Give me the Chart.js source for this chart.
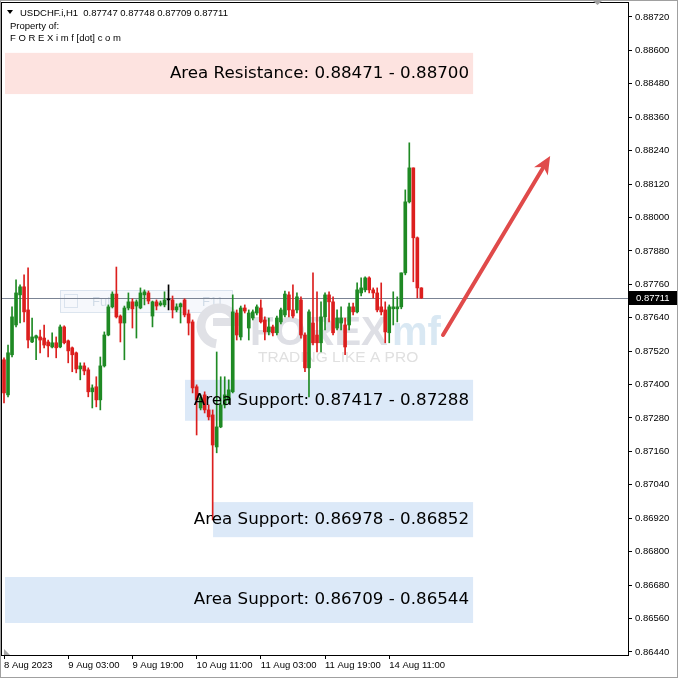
<!DOCTYPE html>
<html>
<head>
<meta charset="utf-8">
<title>USDCHF.i H1</title>
<script src="https://cdn.jsdelivr.net/npm/chart.js@4.4.1/dist/chart.umd.min.js"></script>
<style>
    html, body { margin: 0; padding: 0; background: #fff; }
    #wrap { position: relative; width: 678px; height: 678px; }
</style>
</head>
<body>
<div id="wrap"><canvas id="chart"></canvas></div>
<script>
// USDCHF.i H1 candles, 8 Aug 2023 11:00 -> 14 Aug 2023 19:00
const opens = [
    0.87489, 0.87363, 0.87507, 0.87614, 0.87722, 0.87751, 0.87668, 0.87553, 0.87567, 0.87571,
    0.87567, 0.87553, 0.87535, 0.87550, 0.87535, 0.87607, 0.87557, 0.87532, 0.87514, 0.87456,
    0.87467, 0.87453, 0.87374, 0.87392, 0.87345, 0.87467, 0.87578, 0.87679, 0.87725, 0.87646,
    0.87621, 0.87675, 0.87697, 0.87682, 0.87675, 0.87722, 0.87729, 0.87646, 0.87697, 0.87686,
    0.87686, 0.87704, 0.87704, 0.87668, 0.87679, 0.87704, 0.87654, 0.87625, 0.87392, 0.87316,
    0.87363, 0.87309, 0.87291, 0.87176, 0.87248, 0.87327, 0.87345, 0.87374, 0.87657, 0.87571,
    0.87675, 0.87603, 0.87639, 0.87657, 0.87675, 0.87632, 0.87589, 0.87607, 0.87586, 0.87625,
    0.87650, 0.87722, 0.87668, 0.87668, 0.87704, 0.87578, 0.87460, 0.87621, 0.87578, 0.87550,
    0.87643, 0.87722, 0.87697, 0.87603, 0.87621, 0.87614, 0.87614, 0.87679, 0.87661, 0.87729,
    0.87740, 0.87783, 0.87740, 0.87729, 0.87679, 0.87668, 0.87586, 0.87672, 0.87672, 0.87679,
    0.87801, 0.88056, 0.88178, 0.87927, 0.87747
];
const highs = [
    0.87496, 0.87542, 0.87679, 0.87776, 0.87758, 0.87794, 0.87819, 0.87639, 0.87578, 0.87596,
    0.87614, 0.87560, 0.87586, 0.87571, 0.87614, 0.87611, 0.87560, 0.87535, 0.87517, 0.87478,
    0.87478, 0.87460, 0.87399, 0.87428, 0.87499, 0.87589, 0.87686, 0.87733, 0.87822, 0.87650,
    0.87682, 0.87729, 0.87708, 0.87704, 0.87747, 0.87740, 0.87736, 0.87700, 0.87704, 0.87700,
    0.87733, 0.87758, 0.87718, 0.87690, 0.87693, 0.87708, 0.87668, 0.87632, 0.87399, 0.87363,
    0.87374, 0.87327, 0.87309, 0.87517, 0.87428, 0.87428, 0.87417, 0.87722, 0.87668, 0.87682,
    0.87686, 0.87668, 0.87668, 0.87686, 0.87704, 0.87643, 0.87639, 0.87614, 0.87646, 0.87675,
    0.87736, 0.87733, 0.87758, 0.87729, 0.87715, 0.87586, 0.87668, 0.87801, 0.87733, 0.87697,
    0.87729, 0.87733, 0.87715, 0.87668, 0.87679, 0.87639, 0.87693, 0.87693, 0.87765, 0.87783,
    0.87787, 0.87787, 0.87747, 0.87747, 0.87765, 0.87697, 0.87686, 0.87733, 0.87715, 0.87801,
    0.88099, 0.88268, 0.88178, 0.87930, 0.87748
];
const lows = [
    0.87334, 0.87356, 0.87499, 0.87607, 0.87621, 0.87625, 0.87532, 0.87550, 0.87489, 0.87514,
    0.87532, 0.87499, 0.87532, 0.87496, 0.87532, 0.87546, 0.87478, 0.87446, 0.87442, 0.87417,
    0.87435, 0.87356, 0.87316, 0.87320, 0.87309, 0.87463, 0.87575, 0.87675, 0.87639, 0.87553,
    0.87489, 0.87668, 0.87603, 0.87567, 0.87672, 0.87686, 0.87690, 0.87607, 0.87668, 0.87682,
    0.87679, 0.87668, 0.87639, 0.87661, 0.87621, 0.87643, 0.87578, 0.87370, 0.87219, 0.87309,
    0.87298, 0.87273, 0.86914, 0.87155, 0.87245, 0.87316, 0.87334, 0.87370, 0.87560, 0.87560,
    0.87657, 0.87560, 0.87632, 0.87650, 0.87621, 0.87560, 0.87578, 0.87575, 0.87578, 0.87618,
    0.87643, 0.87643, 0.87639, 0.87657, 0.87567, 0.87446, 0.87356, 0.87542, 0.87517, 0.87517,
    0.87596, 0.87625, 0.87578, 0.87596, 0.87596, 0.87507, 0.87596, 0.87650, 0.87657, 0.87718,
    0.87733, 0.87729, 0.87711, 0.87661, 0.87650, 0.87550, 0.87550, 0.87614, 0.87625, 0.87672,
    0.87794, 0.88052, 0.87769, 0.87711, 0.87709
];
const closes = [
    0.87370, 0.87514, 0.87643, 0.87729, 0.87751, 0.87661, 0.87560, 0.87571, 0.87575, 0.87560,
    0.87542, 0.87539, 0.87550, 0.87532, 0.87607, 0.87550, 0.87521, 0.87507, 0.87456, 0.87467,
    0.87449, 0.87374, 0.87388, 0.87345, 0.87467, 0.87578, 0.87679, 0.87725, 0.87643, 0.87621,
    0.87675, 0.87697, 0.87672, 0.87697, 0.87729, 0.87733, 0.87700, 0.87697, 0.87682, 0.87693,
    0.87704, 0.87704, 0.87668, 0.87679, 0.87690, 0.87650, 0.87621, 0.87388, 0.87345, 0.87353,
    0.87309, 0.87284, 0.87183, 0.87248, 0.87327, 0.87363, 0.87381, 0.87661, 0.87578, 0.87675,
    0.87664, 0.87657, 0.87661, 0.87679, 0.87625, 0.87589, 0.87607, 0.87586, 0.87639, 0.87668,
    0.87725, 0.87668, 0.87646, 0.87715, 0.87578, 0.87460, 0.87661, 0.87550, 0.87550, 0.87643,
    0.87722, 0.87697, 0.87586, 0.87639, 0.87639, 0.87535, 0.87679, 0.87661, 0.87740, 0.87747,
    0.87783, 0.87740, 0.87729, 0.87668, 0.87661, 0.87589, 0.87679, 0.87679, 0.87679, 0.87801,
    0.88056, 0.88178, 0.87927, 0.87747, 0.87711
];

const slotCount = 156; // bars plus the empty shift space on the right
const xTickIndex = [0, 16, 32, 48, 64, 80, 96];
const xTickLabels = ["8 Aug 2023", "9 Aug 03:00", "9 Aug 19:00", "10 Aug 11:00", "11 Aug 03:00", "11 Aug 19:00", "14 Aug 11:00"];
const yTicks = [
    0.86440, 0.86560, 0.86680, 0.86800, 0.86920, 0.87040, 0.87160, 0.87280, 0.87400, 0.87520,
    0.87640, 0.87760, 0.87880, 0.88000, 0.88120, 0.88240, 0.88360, 0.88480, 0.88600, 0.88720
];
const yMin = 0.86429;
const yMax = 0.88770;
const lastPrice = 0.87711;

// Drawn zones (bar index range + price range as placed on the chart)
const zoneLabels = [
    "Area Resistance: 0.88471 - 0.88700",
    "Area Support: 0.87417 - 0.87288",
    "Area Support: 0.86978 - 0.86852",
    "Area Support: 0.86709 - 0.86544"
];
const zoneTop = [0.88591, 0.87417, 0.86978, 0.86709];
const zoneBottom = [0.88443, 0.87270, 0.86852, 0.86544];
const zoneStart = [0.25, 45.1, 52.1, 0.25];
const zoneEnd = [116.9, 116.9, 116.9, 116.9];

// Forecast arrow: [bar index, price]
const arrowFrom = [109.4, 0.87578];
const arrowTo = [136.1, 0.88221];

const headerLine = "USDCHF.i,H1  0.87747 0.87748 0.87709 0.87711";

const UP = "#1f8a24";
const DOWN = "#dc1f1e";
const DOJI = "#000000";
const FONT = '"Liberation Sans", Arial, sans-serif';

function candleColor(i) {
    if (closes[i] > opens[i]) return UP;
    if (closes[i] < opens[i]) return DOWN;
    return DOJI;
}

const labels = Array.from({ length: slotCount }, (_, i) => String(i));
const colors = opens.map((_, i) => candleColor(i));

Chart.defaults.font.family = FONT;
Chart.defaults.font.size = 9.5;
Chart.defaults.color = "#000";

// Everything the library has no element for: zones, watermark, bid line, arrow, header
const overlay = {
    id: "overlay",
    beforeDatasetsDraw(chart) {
        const { ctx, chartArea: a, scales: { x, y } } = chart;
        ctx.save();
        ctx.beginPath();
        ctx.rect(a.left, a.top, a.width, a.height);
        ctx.clip();

        // zones
        zoneLabels.forEach((_, i) => {
            const x1 = x.getPixelForValue(zoneStart[i]);
            const x2 = x.getPixelForValue(zoneEnd[i]);
            const y1 = y.getPixelForValue(zoneTop[i]);
            const y2 = y.getPixelForValue(zoneBottom[i]);
            ctx.fillStyle = i === 0 ? "#fde3e0" : "#dce9f8";
            ctx.fillRect(x1, y1, x2 - x1, y2 - y1);
        });

        // faint "full screen" hint box
        ctx.fillStyle = "rgba(228, 236, 246, 0.35)";
        ctx.strokeStyle = "rgba(205, 218, 232, 0.7)";
        ctx.lineWidth = 1;
        ctx.fillRect(60, 290, 172, 22);
        ctx.strokeRect(60.5, 290.5, 172, 22);
        ctx.strokeRect(64.5, 294.5, 13, 13);
        ctx.fillStyle = "rgba(200, 212, 226, 0.8)";
        ctx.font = "13px " + FONT;
        ctx.textBaseline = "middle";
        ctx.fillText("Full", 92, 302);
        ctx.fillText("F11", 202, 302);

        // watermark logo
        ctx.strokeStyle = "#e0e1e6";
        ctx.lineWidth = 9;
        ctx.beginPath();
        ctx.arc(219, 326, 18, Math.PI * 0.55, Math.PI * 1.95);
        ctx.stroke();
        ctx.fillStyle = "#e0e1e6";
        ctx.fillRect(213, 318, 26, 8);
        ctx.font = "bold 40px " + FONT;
        ctx.textBaseline = "alphabetic";
        ctx.fillStyle = "#dedfe5";
        ctx.fillText("FOREX", 250, 345);
        ctx.fillStyle = "#d9e8f3";
        ctx.fillText("mf", 392, 345);
        ctx.font = "15.5px " + FONT;
        ctx.fillStyle = "#e0e0e0";
        ctx.textBaseline = "middle";
        ctx.fillText("TRADING LIKE A PRO", 258, 358);

        // bid line
        const py = Math.round(y.getPixelForValue(lastPrice)) + 0.5;
        ctx.strokeStyle = "#7b8494";
        ctx.lineWidth = 1;
        ctx.beginPath();
        ctx.moveTo(a.left, py);
        ctx.lineTo(a.right, py);
        ctx.stroke();

        // chart shift marker, bottom left
        ctx.fillStyle = "#a8a8a8";
        ctx.beginPath();
        ctx.moveTo(a.left + 2, a.bottom);
        ctx.lineTo(a.left + 8, a.bottom);
        ctx.lineTo(a.left + 2, a.bottom - 6);
        ctx.fill();
        ctx.restore();
    },
    afterDatasetsDraw(chart) {
        const { ctx, chartArea: a, scales: { x, y } } = chart;
        ctx.save();

        // zone captions
        ctx.font = '16.7px "DejaVu Sans", sans-serif';
        ctx.fillStyle = "#000";
        ctx.textAlign = "right";
        ctx.textBaseline = "middle";
        zoneLabels.forEach((txt, i) => {
            const x2 = x.getPixelForValue(zoneEnd[i]);
            const yc = (y.getPixelForValue(zoneTop[i]) + y.getPixelForValue(zoneBottom[i])) / 2;
            ctx.fillText(txt, x2 - 4, yc);
        });

        // arrow
        const ax1 = x.getPixelForValue(arrowFrom[0]);
        const ay1 = y.getPixelForValue(arrowFrom[1]);
        const ax2 = x.getPixelForValue(arrowTo[0]);
        const ay2 = y.getPixelForValue(arrowTo[1]);
        const ang = Math.atan2(ay2 - ay1, ax2 - ax1);
        const head = 18, half = 8;
        const bx = ax2 - head * Math.cos(ang);
        const by = ay2 - head * Math.sin(ang);
        ctx.strokeStyle = "#e04a4a";
        ctx.fillStyle = "#e04a4a";
        ctx.lineWidth = 4;
        ctx.lineCap = "round";
        ctx.beginPath();
        ctx.moveTo(ax1, ay1);
        ctx.lineTo(bx + 4 * Math.cos(ang), by + 4 * Math.sin(ang));
        ctx.stroke();
        ctx.beginPath();
        ctx.moveTo(ax2, ay2);
        ctx.lineTo(bx + half * Math.sin(ang), by - half * Math.cos(ang));
        ctx.lineTo(bx + 5 * Math.cos(ang), by + 5 * Math.sin(ang));
        ctx.lineTo(bx - half * Math.sin(ang), by + half * Math.cos(ang));
        ctx.closePath();
        ctx.fill();

        // plot frame
        ctx.strokeStyle = "#000";
        ctx.lineWidth = 1;
        ctx.strokeRect(a.left - 0.5, a.top - 0.5, a.width + 1, a.height + 1);
        ctx.restore();
    },
    afterDraw(chart) {
        const { ctx, width, height, chartArea: a, scales: { y } } = chart;
        ctx.save();

        // current price tag on the axis
        const py = Math.round(y.getPixelForValue(lastPrice));
        ctx.fillStyle = "#000";
        ctx.fillRect(a.right + 1, py - 7, width - a.right - 2, 14);
        ctx.fillStyle = "#fff";
        ctx.font = "9.5px " + FONT;
        ctx.textBaseline = "middle";
        ctx.fillText(lastPrice.toFixed(5), a.right + 8, py + 0.5);

        // header
        ctx.fillStyle = "#000";
        ctx.beginPath();
        ctx.moveTo(7, 10);
        ctx.lineTo(13, 10);
        ctx.lineTo(10, 14);
        ctx.fill();
        ctx.fillText(headerLine, 20, 13);
        ctx.fillText("Property of:", 10, 26);
        ctx.fillText("F O R E X i m f [dot] c o m", 10, 38);

        // chart shift marker, top
        ctx.fillStyle = "#a0a0a0";
        ctx.beginPath();
        ctx.moveTo(592, 0);
        ctx.lineTo(603, 0);
        ctx.lineTo(597.5, 5);
        ctx.fill();

        // window edge
        ctx.strokeStyle = "#a0a0a0";
        ctx.strokeRect(0.5, 0.5, width - 1, height - 1);
        ctx.restore();
    }
};

const chart = new Chart(document.querySelector("#chart"), {
    type: "bar",
    data: {
        labels,
        datasets: [
            {
                label: "wick",
                data: lows.map((l, i) => [l, highs[i]]),
                backgroundColor: colors,
                barThickness: 1,
                grouped: false,
                borderWidth: 0
            },
            {
                label: "body",
                data: opens.map((o, i) => [o, closes[i]]),
                backgroundColor: colors,
                barThickness: 3,
                minBarLength: 1,
                grouped: false,
                borderWidth: 0
            }
        ]
    },
    options: {
        responsive: true,
        maintainAspectRatio: false,
        animation: false,
        layout: { padding: { left: 2, top: 3, right: 0, bottom: 0 } },
        plugins: { legend: { display: false }, tooltip: { enabled: false } },
        scales: {
            x: {
                type: "category",
                offset: true,
                border: { display: false },
                grid: {
                    display: true,
                    offset: false,
                    drawOnChartArea: false,
                    drawTicks: true,
                    tickLength: 4,
                    color: (c) => xTickIndex.includes(c.index) ? "#000" : "rgba(0,0,0,0)"
                },
                ticks: {
                    autoSkip: false,
                    maxRotation: 0,
                    minRotation: 0,
                    align: "start",
                    padding: 1,
                    callback: (v, i) => {
                        const k = xTickIndex.indexOf(i);
                        return k >= 0 ? xTickLabels[k] : "";
                    }
                },
                afterFit: (s) => {
                    s.height = 23;
                    s.paddingLeft = 0;
                    s.paddingRight = 0;
                }
            },
            y: {
                type: "linear",
                position: "right",
                min: yMin,
                max: yMax,
                border: { display: false },
                grid: {
                    drawOnChartArea: false,
                    drawTicks: true,
                    tickLength: 4,
                    color: "#000"
                },
                ticks: {
                    padding: 3,
                    callback: (v) => v.toFixed(5)
                },
                afterBuildTicks: (s) => {
                    s.ticks = yTicks.map((v) => ({ value: v }));
                },
                afterFit: (s) => {
                    s.width = 50;
                    s.paddingTop = 0;
                    s.paddingBottom = 0;
                }
            }
        }
    },
    plugins: [overlay]
});
</script>
</body>
</html>
